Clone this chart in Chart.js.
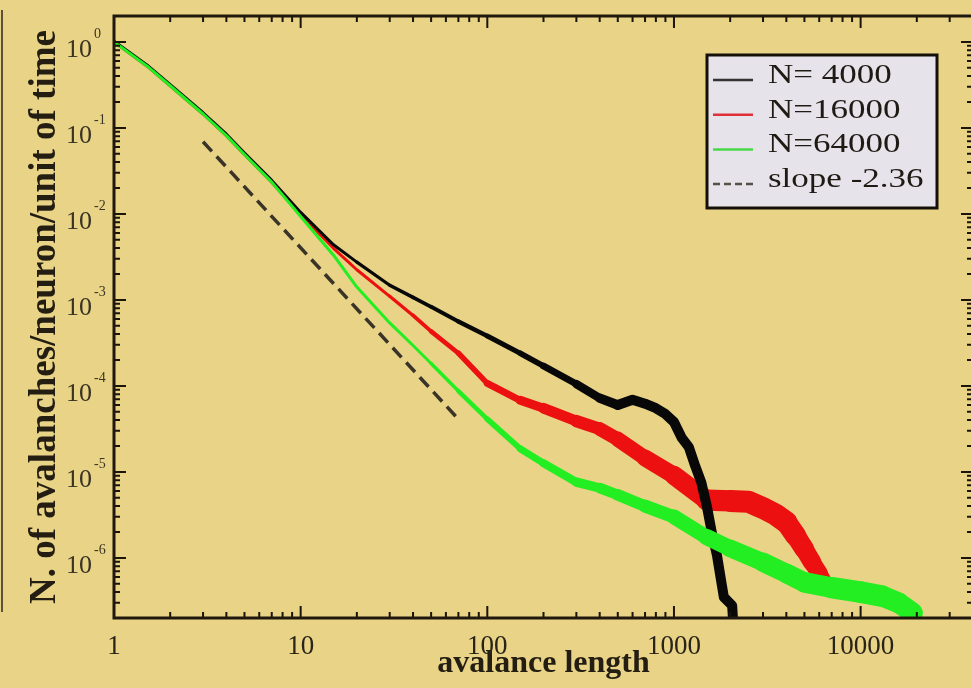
<!DOCTYPE html>
<html>
<head>
<meta charset="utf-8">
<script src="https://cdn.jsdelivr.net/npm/chart.js@4.4.1/dist/chart.umd.min.js"></script>
<style>
  html, body { margin: 0; padding: 0; background: #e8d386; overflow: hidden; width: 971px; height: 688px; }
  canvas { display: block; }
</style>
</head>
<body>
<canvas id="c" width="990" height="688"></canvas>
<script>
// Avalanche length distributions for three network sizes (rate per neuron per unit of time)
const len4000  = [1, 1.5, 2, 3, 4, 5, 7, 10, 15, 20, 30, 40, 50, 70, 100, 150, 200, 300, 400, 500, 600, 700, 800, 900, 1000, 1100, 1200, 1300, 1400, 1500, 1600, 1700, 1800, 1850, 2050, 2150];
const rate4000 = [1.02, 0.54, 0.318, 0.15, 0.0845, 0.051, 0.0245, 0.0104, 0.00437, 0.00275, 0.00148, 0.00107, 8.3e-4, 5.6e-4, 3.8e-4, 2.4e-4, 1.7e-4, 1.05e-4, 7.2e-5, 6.0e-5, 6.9e-5, 6.2e-5, 5.5e-5, 4.7e-5, 3.8e-5, 2.5e-5, 1.95e-5, 1.17e-5, 7.6e-6, 4.0e-6, 1.9e-6, 1.07e-6, 5.0e-7, 3.5e-7, 2.8e-7, 5e-8];

const len16000  = [1, 1.5, 2, 3, 4, 5, 7, 10, 15, 20, 30, 40, 50, 70, 100, 150, 200, 300, 400, 500, 700, 1000, 1500, 2000, 2500, 3000, 3500, 4000, 4500, 5000, 5500, 6000, 6300];
const rate16000 = [1.0, 0.525, 0.309, 0.145, 0.0813, 0.049, 0.0234, 0.00977, 0.00398, 0.00224, 0.0011, 6.6e-4, 4.3e-4, 2.4e-4, 1.07e-4, 6.8e-5, 5.5e-5, 3.9e-5, 3.16e-5, 2.4e-5, 1.45e-5, 9.1e-6, 4.7e-6, 4.6e-6, 4.5e-6, 3.8e-6, 3.2e-6, 2.6e-6, 1.8e-6, 1.26e-6, 8.9e-7, 6.6e-7, 5.4e-7];

const len64000  = [1, 1.5, 2, 3, 4, 5, 7, 10, 15, 20, 30, 40, 50, 70, 100, 150, 200, 300, 400, 500, 700, 1000, 1500, 2000, 3000, 4000, 5000, 7000, 10000, 13000, 16000, 19000];
const rate64000 = [1.0, 0.525, 0.309, 0.145, 0.0813, 0.049, 0.0234, 0.00933, 0.00331, 0.00141, 5.4e-4, 2.95e-4, 1.82e-4, 8.7e-5, 4.1e-5, 1.86e-5, 1.26e-5, 7.6e-6, 6.5e-6, 5.4e-6, 4.0e-6, 3.0e-6, 1.74e-6, 1.29e-6, 8.9e-7, 6.6e-7, 5.2e-7, 4.5e-7, 4.0e-7, 3.6e-7, 3.0e-7, 2.3e-7];

// Reference power law with exponent -2.36
const slopeLen  = [3, 70];
const slopeRate = [0.069, 4.1e-5];

const seriesLabels   = ['N= 4000', 'N=16000', 'N=64000', 'slope -2.36'];
const xTickLabels    = ['1', '10', '100', '1000', '10000'];
const yTickExponents = ['0', '-1', '-2', '-3', '-4', '-5', '-6'];

const SERIF = '"Liberation Serif", "Times New Roman", Tinos, "Nimbus Roman", "DejaVu Serif Condensed", serif';
const INK = '#231d12';

function toPoints(xs, ys) { return xs.map((x, i) => ({ x, y: ys[i] })); }
function isPow10(v) { const l = Math.log10(v); return Math.abs(l - Math.round(l)) < 1e-9; }

// 1..9 x 10^n tick positions across the axis range
function logTicks(min, max) {
  const out = [];
  for (let e = Math.floor(Math.log10(min)); e <= Math.ceil(Math.log10(max)); e++) {
    for (let m = 1; m <= 9; m++) {
      const v = Number(m + 'e' + e);
      if (v >= min * 0.999 && v <= max * 1.001) out.push({ value: v });
    }
  }
  return out;
}

// Line width grows where the curves get noisy (log10 of length -> px)
function widthAt(stops, lx) {
  if (lx <= stops[0][0]) return stops[0][1];
  for (let i = 1; i < stops.length; i++) {
    if (lx <= stops[i][0]) {
      const [a, wa] = stops[i - 1], [b, wb] = stops[i];
      return wa + (wb - wa) * (lx - a) / (b - a);
    }
  }
  return stops[stops.length - 1][1];
}
function bandWidth(stops) {
  return ctx => widthAt(stops, Math.log10(Math.sqrt(ctx.p0.parsed.x * ctx.p1.parsed.x)));
}

const frameAndTicks = {
  id: 'frameAndTicks',
  beforeDraw(chart) {
    const { ctx } = chart;
    ctx.save();
    ctx.strokeStyle = '#5c503a';
    ctx.lineWidth = 2;
    ctx.beginPath(); ctx.moveTo(2, 10); ctx.lineTo(2, 612); ctx.stroke();
    ctx.restore();
  },
  afterDatasetsDraw(chart) {
    const { ctx, chartArea: a, scales: { x, y } } = chart;
    ctx.save();
    ctx.strokeStyle = '#1a140a';
    ctx.lineWidth = 2;
    ctx.beginPath();
    x.ticks.forEach(t => {
      const px = x.getPixelForValue(t.value);
      const len = isPow10(t.value) ? 12 : 6;
      ctx.moveTo(px, a.bottom); ctx.lineTo(px, a.bottom - len);
      ctx.moveTo(px, a.top); ctx.lineTo(px, a.top + len);
    });
    y.ticks.forEach(t => {
      const py = y.getPixelForValue(t.value);
      const len = isPow10(t.value) ? 12 : 6;
      ctx.moveTo(a.left, py); ctx.lineTo(a.left + len, py);
      ctx.moveTo(a.right, py); ctx.lineTo(a.right - len, py);
    });
    ctx.stroke();
    ctx.lineWidth = 3;
    ctx.strokeStyle = '#20180c';
    ctx.strokeRect(a.left, a.top, a.right - a.left, a.bottom - a.top);

    // powers of ten on the rate axis
    ctx.fillStyle = '#3a3424';
    yTickExponents.forEach(exp => {
      const py = y.getPixelForValue(Math.pow(10, Number(exp)));
      ctx.font = '26px ' + SERIF;
      ctx.textAlign = 'right';
      ctx.textBaseline = 'alphabetic';
      ctx.fillText('10', a.left - 22, py + 15);
      ctx.font = '14px ' + SERIF;
      ctx.textAlign = 'left';
      ctx.fillText(exp, a.left - 20, py - 4);
    });
    ctx.restore();
  }
};

const legendBox = {
  id: 'legendBox',
  afterDraw(chart) {
    const { ctx, chartArea: a } = chart;
    const w = 230, h = 153;
    const x0 = a.right - 36 - w, y0 = a.top + 39;
    ctx.save();
    ctx.fillStyle = '#e6e3ea';
    ctx.fillRect(x0, y0, w, h);
    ctx.lineWidth = 3;
    ctx.strokeStyle = '#141008';
    ctx.strokeRect(x0, y0, w, h);
    chart.data.datasets.forEach((ds, i) => {
      const cy = y0 + 25 + i * 34.7;
      ctx.beginPath();
      ctx.setLineDash(ds.borderDash ? [7, 4] : []);
      ctx.strokeStyle = ds.legendColor;
      ctx.lineWidth = 2.5;
      ctx.moveTo(x0 + 6, cy); ctx.lineTo(x0 + 46, cy);
      ctx.stroke();
      ctx.setLineDash([]);
      ctx.save();
      ctx.translate(x0 + 61, cy + 3);
      ctx.scale(1.25, 1);
      ctx.font = '28px ' + SERIF;
      ctx.fillStyle = '#1e1a14';
      ctx.textAlign = 'left';
      ctx.textBaseline = 'alphabetic';
      ctx.fillText(ds.label, 0, 0);
      ctx.restore();
    });
    ctx.restore();
  }
};

const lineBase = { pointRadius: 0, tension: 0, borderCapStyle: 'round', borderJoinStyle: 'round', clip: 0, fill: false };

function build() {
  new Chart(document.getElementById('c'), {
    type: 'line',
    data: {
      datasets: [
        Object.assign({}, lineBase, {
          label: seriesLabels[0], data: toPoints(len4000, rate4000), order: 1,
          borderColor: '#080808', legendColor: '#333333', borderWidth: 3,
          segment: { borderWidth: bandWidth([[0, 3], [1.3, 3], [2, 4.5], [2.3, 6], [2.5, 8], [2.7, 10], [4, 10]]) }
        }),
        Object.assign({}, lineBase, {
          label: seriesLabels[1], data: toPoints(len16000, rate16000), order: 2,
          borderColor: '#ec1010', legendColor: '#e0303a', borderWidth: 3,
          segment: { borderWidth: bandWidth([[0, 3], [1.5, 3], [2, 6], [2.5, 12], [3, 18], [3.3, 22], [3.6, 22], [3.8, 16]]) }
        }),
        Object.assign({}, lineBase, {
          label: seriesLabels[2], data: toPoints(len64000, rate64000), order: 0,
          borderColor: '#22ee22', legendColor: '#48d848', borderWidth: 3,
          segment: { borderWidth: bandWidth([[0, 3], [1.7, 3], [2, 5], [2.5, 9], [3, 14], [3.5, 19], [4, 22], [4.3, 20]]) }
        }),
        Object.assign({}, lineBase, {
          label: seriesLabels[3], data: toPoints(slopeLen, slopeRate), order: 3,
          borderColor: '#3a3428', legendColor: '#555048', borderWidth: 3.5,
          borderDash: [13, 7], borderCapStyle: 'butt'
        })
      ]
    },
    options: {
      responsive: false,
      animation: false,
      events: [],
      layout: { padding: { top: 16, right: 17, left: 0, bottom: 0 } },
      plugins: { legend: { display: false }, tooltip: { enabled: false } },
      scales: {
        x: {
          type: 'logarithmic', min: 1, max: 40000, position: 'bottom',
          grid: { display: false, drawTicks: false }, border: { display: false },
          afterBuildTicks: s => { s.ticks = logTicks(s.min, s.max); },
          ticks: {
            autoSkip: false, maxRotation: 0, padding: 13,
            font: { family: SERIF, size: 27 }, color: '#2a2418',
            callback: v => isPow10(v) ? (xTickLabels[Math.round(Math.log10(v))] || '') : ''
          },
          title: {
            display: true, text: 'avalance length', color: INK,
            font: { family: SERIF, size: 32, weight: 'bold' }, padding: { top: 0, bottom: 5 }
          },
          afterFit: s => { s.height = 70; }
        },
        y: {
          type: 'logarithmic', min: 2e-7, max: 2, position: 'left',
          grid: { display: false, drawTicks: false }, border: { display: false },
          afterBuildTicks: s => { s.ticks = logTicks(s.min, s.max); },
          ticks: { display: false },
          title: {
            display: true, text: 'N. of avalanches/neuron/unit of time', color: INK,
            font: { family: SERIF, size: 37, weight: 'bold' }, padding: { top: 23, bottom: 0 }
          },
          afterFit: s => { s.width = 114; }
        }
      }
    },
    plugins: [frameAndTicks, legendBox]
  });
}

Promise.all([
  document.fonts.load('26px "Liberation Serif"'),
  document.fonts.load('bold 32px "Liberation Serif"')
]).catch(() => {}).then(build);
</script>
</body>
</html>
